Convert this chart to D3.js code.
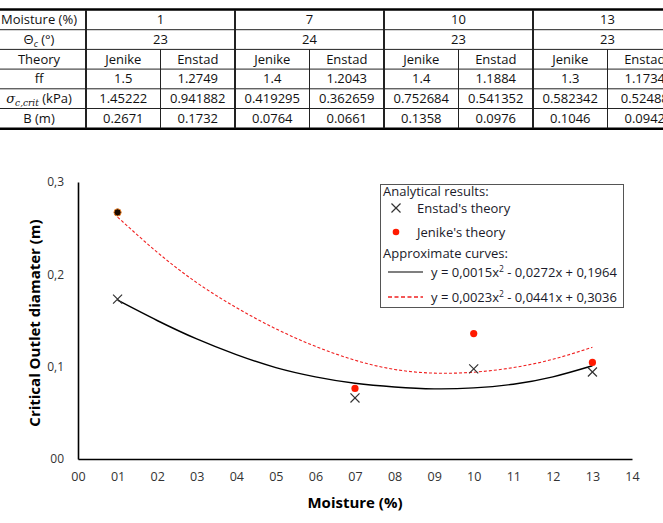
<!DOCTYPE html>
<html>
<head>
<meta charset="utf-8">
<script src="https://cdn.jsdelivr.net/npm/d3@7"></script>
<style>
  body { margin: 0; background: #fff; }
  svg text { font-family: "Open Sans", "Noto Sans", sans-serif; }
</style>
</head>
<body>
<div id="wrapper"></div>
<script>
// table values
const moisture = [1, 7, 10, 13]
const theta = [23, 24, 23, 23]
const theories = ["Jenike", "Enstad"]
const ffJenike = ["1.5", "1.4", "1.4", "1.3"]
const ffEnstad = ["1.2749", "1.2043", "1.1884", "1.1734"]
const sigmaJenike = ["1.45222", "0.419295", "0.752684", "0.582342"]
const sigmaEnstad = ["0.941882", "0.362659", "0.541352", "0.52488"]
const bJenike = [0.2671, 0.0764, 0.1358, 0.1046]
const bEnstad = [0.1732, 0.0661, 0.0976, 0.0942]

// approximate curves at integer moisture
const curveX = [1, 2, 3, 4, 5, 6, 7, 8, 9, 10, 11, 12, 13]
const curveEnstad = [0.172, 0.150, 0.130, 0.113, 0.099, 0.089, 0.082, 0.078, 0.076, 0.077, 0.081, 0.089, 0.101]
const curveJenike = [0.262, 0.224, 0.191, 0.164, 0.141, 0.122, 0.107, 0.097, 0.093, 0.094, 0.099, 0.108, 0.121]

const xTickValues = d3.range(0, 15)
const xTickLabels = ["00", "01", "02", "03", "04", "05", "06", "07", "08", "09", "10", "11", "12", "13", "14"]
const yTickValues = [0, 0.1, 0.2, 0.3]
const yTickLabels = ["00", "0,1", "0,2", "0,3"]

const svg = d3.select("#wrapper").append("svg")
  .attr("width", 663)
  .attr("height", 523)

// ---- table ----
const table = svg.append("g")
const rowTop = 10, rowH = 19.7
const labelLeft = -10, labelRight = 86, subW = 74.5
const colX = i => labelRight + i * subW
const fs = 13

const rows = [
  { label: "Moisture (%)", group: moisture },
  { label: "theta", group: theta },
  { label: "Theory", pair: moisture.map(() => theories) },
  { label: "ff", pair: moisture.map((m, i) => [ffJenike[i], ffEnstad[i]]) },
  { label: "sigma", pair: moisture.map((m, i) => [sigmaJenike[i], sigmaEnstad[i]]) },
  { label: "B (m)", pair: moisture.map((m, i) => [bJenike[i].toFixed(4), bEnstad[i].toFixed(4)]) },
]

rows.forEach((row, r) => {
  const yTop = rowTop + r * rowH
  const yMid = yTop + rowH / 2 + 4.5
  const lab = table.append("text")
    .attr("x", (labelLeft + labelRight) / 2 + 1)
    .attr("y", yMid)
    .attr("text-anchor", "middle")
    .attr("font-size", fs)
    .attr("fill", "#111")
  if (row.label === "theta") {
    lab.append("tspan").text("Θ")
    lab.append("tspan").attr("font-style", "italic").attr("font-size", 9).attr("dy", 3).text("c")
    lab.append("tspan").attr("dy", -3).text(" (°)")
  } else if (row.label === "sigma") {
    lab.append("tspan").attr("font-style", "italic").attr("font-family", "DejaVu Serif").text("σ")
    lab.append("tspan").attr("font-style", "italic").attr("font-family", "DejaVu Serif").attr("font-size", 9).attr("dy", 3).text("c,crit")
    lab.append("tspan").attr("dy", -3).text(" (kPa)")
  } else {
    lab.text(row.label)
  }
  if (row.group) {
    row.group.forEach((v, i) => {
      table.append("text")
        .attr("x", colX(i * 2 + 1))
        .attr("y", yMid)
        .attr("text-anchor", "middle")
        .attr("font-size", fs)
        .attr("fill", "#111")
        .text(v)
    })
  } else {
    row.pair.forEach((p, i) => {
      p.forEach((v, j) => {
        table.append("text")
          .attr("x", colX(i * 2 + j) + subW / 2)
          .attr("y", yMid)
          .attr("text-anchor", "middle")
          .attr("font-size", fs)
          .attr("fill", "#111")
          .text(v)
      })
    })
  }
  // horizontal line under row
  if (r < rows.length - 1) {
    table.append("line")
      .attr("x1", labelLeft).attr("x2", 700)
      .attr("y1", yTop + rowH).attr("y2", yTop + rowH)
      .attr("stroke", "#222").attr("stroke-width", 1)
  }
})

const tableBottom = rowTop + rows.length * rowH
table.append("line")
  .attr("x1", labelLeft).attr("x2", 700)
  .attr("y1", rowTop - 0.5).attr("y2", rowTop - 0.5)
  .attr("stroke", "#000").attr("stroke-width", 2.5)
table.append("line")
  .attr("x1", labelLeft).attr("x2", 700)
  .attr("y1", tableBottom + 0.5).attr("y2", tableBottom + 0.5)
  .attr("stroke", "#000").attr("stroke-width", 2.5)

// vertical lines
d3.range(0, 9).forEach(k => {
  const major = k % 2 === 0
  table.append("line")
    .attr("x1", colX(k)).attr("x2", colX(k))
    .attr("y1", major ? rowTop : rowTop + 2 * rowH)
    .attr("y2", tableBottom)
    .attr("stroke", "#222")
    .attr("stroke-width", major ? 2 : 1)
})

// ---- chart ----
const xScale = d3.scaleLinear().domain([0, 14]).range([78, 632])
const yScale = d3.scaleLinear().domain([0, 0.3]).range([459, 182])

const xAxis = svg.append("g")
  .attr("transform", `translate(0, ${yScale(0)})`)
  .call(d3.axisBottom(xScale)
    .tickValues(xTickValues)
    .tickFormat((d, i) => xTickLabels[i])
    .tickSize(0)
    .tickPadding(13))
xAxis.select(".domain").attr("stroke", "#000").attr("stroke-width", 1.6)
xAxis.selectAll("text").attr("font-size", 12.5).attr("fill", "#333")
  .style("font-family", "'Open Sans', 'Noto Sans', sans-serif")

const yAxis = svg.append("g")
  .attr("transform", `translate(${xScale(0)}, 0)`)
  .call(d3.axisLeft(yScale)
    .tickValues(yTickValues)
    .tickFormat((d, i) => yTickLabels[i])
    .tickSize(0)
    .tickPadding(14))
yAxis.select(".domain").attr("stroke", "#000").attr("stroke-width", 1.6)
yAxis.selectAll("text").attr("font-size", 12).attr("fill", "#333")
  .style("font-family", "'Open Sans', 'Noto Sans', sans-serif")

svg.append("text")
  .attr("x", 355).attr("y", 508)
  .attr("text-anchor", "middle")
  .attr("font-size", 15).attr("font-weight", "bold")
  .text("Moisture (%)")

svg.append("text")
  .attr("transform", "translate(40, 323) rotate(-90)")
  .attr("text-anchor", "middle")
  .attr("font-size", 15).attr("font-weight", "bold")
  .text("Critical Outlet diamater (m)")

// curves
const lineGen = d3.line()
  .x((d, i) => xScale(curveX[i]))
  .y(d => yScale(d))
  .curve(d3.curveNatural)

svg.append("path")
  .datum(curveEnstad)
  .attr("d", lineGen)
  .attr("fill", "none")
  .attr("stroke", "#000")
  .attr("stroke-width", 1.4)

svg.append("path")
  .datum(curveJenike)
  .attr("d", lineGen)
  .attr("fill", "none")
  .attr("stroke", "#f02020")
  .attr("stroke-width", 1.1)
  .attr("stroke-dasharray", "3,2")

// points
const xMark = d3.symbol().type(d3.symbolX).size(55)
svg.selectAll(".enstad")
  .data(bEnstad)
  .enter().append("path")
    .attr("class", "enstad")
    .attr("transform", (d, i) => `translate(${xScale(moisture[i])}, ${yScale(d)})`)
    .attr("d", xMark)
    .attr("stroke", "#333")
    .attr("stroke-width", 1.2)
    .attr("fill", "none")

svg.selectAll(".jenike")
  .data(bJenike)
  .enter().append("circle")
    .attr("class", "jenike")
    .attr("cx", (d, i) => xScale(moisture[i]))
    .attr("cy", d => yScale(d))
    .attr("r", 3.6)
    .attr("fill", (d, i) => i === 0 ? "#1a0a00" : "#ff1a00")
    .attr("stroke", (d, i) => i === 0 ? "#e8802a" : "none")
    .attr("stroke-width", 1)

// legend
const legend = svg.append("g")
legend.append("rect")
  .attr("x", 380.5).attr("y", 184.5)
  .attr("width", 243).attr("height", 123)
  .attr("fill", "#fff")
  .attr("stroke", "#555").attr("stroke-width", 1)

const lfs = 13
const legText = (x, y, t) => legend.append("text")
  .attr("x", x).attr("y", y)
  .attr("font-size", lfs).attr("fill", "#1a1a2a")
  .text(t)

legText(383, 196, "Analytical results:")
legend.append("path")
  .attr("transform", "translate(396, 208)")
  .attr("d", xMark)
  .attr("stroke", "#333").attr("stroke-width", 1.2).attr("fill", "none")
legText(417, 213, "Enstad's theory")
legend.append("circle")
  .attr("cx", 396).attr("cy", 232).attr("r", 3.3)
  .attr("fill", "#ff1a00")
legText(417, 237, "Jenike's theory")
legText(383, 258, "Approximate curves:")
legend.append("line")
  .attr("x1", 388).attr("x2", 423).attr("y1", 272).attr("y2", 272)
  .attr("stroke", "#000").attr("stroke-width", 1.1)
legend.append("line")
  .attr("x1", 388).attr("x2", 423).attr("y1", 297).attr("y2", 297)
  .attr("stroke", "#f02020").attr("stroke-width", 1.3)
  .attr("stroke-dasharray", "4,2.5")

const eq = (y, a, b, c) => {
  const t = legend.append("text")
    .attr("x", 431).attr("y", y)
    .attr("font-size", lfs).attr("fill", "#1a1a2a")
  t.append("tspan").text(`y = ${a}x`)
  t.append("tspan").attr("font-size", 8.5).attr("dy", -5).text("2")
  t.append("tspan").attr("dy", 5).text(` - ${b}x + ${c}`)
}
eq(277, "0,0015", "0,0272", "0,1964")
eq(302, "0,0023", "0,0441", "0,3036")
</script>
</body>
</html>
